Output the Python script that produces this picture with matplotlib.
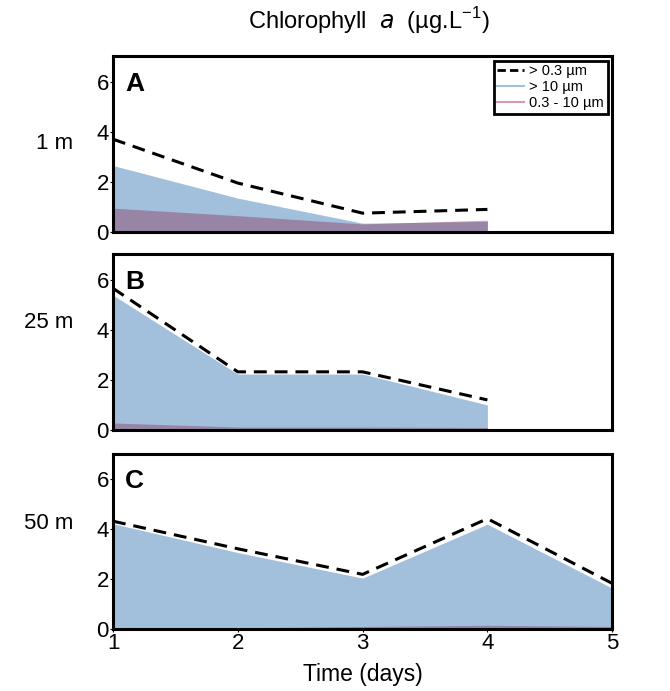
import matplotlib
matplotlib.use("Agg")
import matplotlib.pyplot as plt
from matplotlib.lines import Line2D

plt.rcParams['font.family'] = ['Liberation Sans', 'DejaVu Sans']

days = [1, 2, 3, 4, 5]

# chlorophyll a (ug/L) per depth
depths = ["1 m", "25 m", "50 m"]
letters = ["A", "B", "C"]
total = [[3.7, 1.95, 0.75, 0.9],
         [5.65, 2.32, 2.32, 1.2],
         [4.3, 3.2, 2.18, 4.4, 1.82]]
large = [[2.65, 1.35, 0.35, 0.42],
         [5.38, 2.23, 2.23, 1.0],
         [4.2, 3.05, 2.03, 4.18, 1.63]]
small = [[0.95, 0.65, 0.32, 0.47],
         [0.28, 0.12, 0.12, 0.1],
         [0.05, 0.05, 0.1, 0.15, 0.1]]

blue = '#a2bfdc'
pink = '#8c3c64'
pink_line = '#d49aae'

fig = plt.figure(figsize=(6.7, 6.91), dpi=100)

bottoms = [0.6643, 0.3777, 0.0897]
label_y = [0.793, 0.534, 0.243]
for i in range(3):
    ax = fig.add_axes([0.1687, bottoms[i], 0.745, 0.2540])
    n = len(total[i])
    x = days[:n]
    ax.fill_between(x, 0, large[i], color=blue, lw=0)
    ax.fill_between(x, 0, small[i], color=pink, alpha=0.45, lw=0)
    ax.plot(x, total[i], color='black', ls=(0, (4.2, 2.6)), lw=2.2)
    ax.set_xlim(1, 5)
    ax.set_ylim(0, 7)
    ax.set_yticks([0, 2, 4, 6])
    ax.set_xticks(days)
    ax.tick_params(axis='y', length=2, labelsize=16, pad=1)
    ax.tick_params(axis='x', length=2, labelsize=16, pad=1)
    for s in ax.spines.values():
        s.set_linewidth(2.2)
    if i < 2:
        ax.set_xticklabels([])
        ax.tick_params(axis='x', length=0)
    ax.text(0.024, 0.91, letters[i], transform=ax.transAxes, fontsize=19,
            fontweight='bold', va='top', ha='left')
    fig.text(0.109, label_y[i], depths[i], fontsize=16,
             ha='right', va='center')
    if i == 0:
        handles = [Line2D([], [], color='black', ls=(0, (3, 1.5)), lw=2),
                   Line2D([], [], color=blue, lw=1.5),
                   Line2D([], [], color=pink_line, lw=1.5)]
        leg = ax.legend(handles, ["> 0.3 µm", "> 10 µm", "0.3 - 10 µm"],
                        loc='upper right', fontsize=10.5, fancybox=False,
                        framealpha=1, edgecolor='black', handlelength=1.85,
                        handletextpad=0.35, labelspacing=0.12,
                        borderpad=0.25, borderaxespad=0.3)
        leg.get_frame().set_linewidth(2)

fig.text(0.541, 0.024, "Time (days)", fontsize=16.5, ha='center', va='center')
fig.text(0.55, 0.97, r"Chlorophyll  $\it{a}$  (µg.L$^{\mathregular{-1}}$)",
         fontsize=17, ha='center', va='center')

fig.savefig("out.png", dpi=100)
